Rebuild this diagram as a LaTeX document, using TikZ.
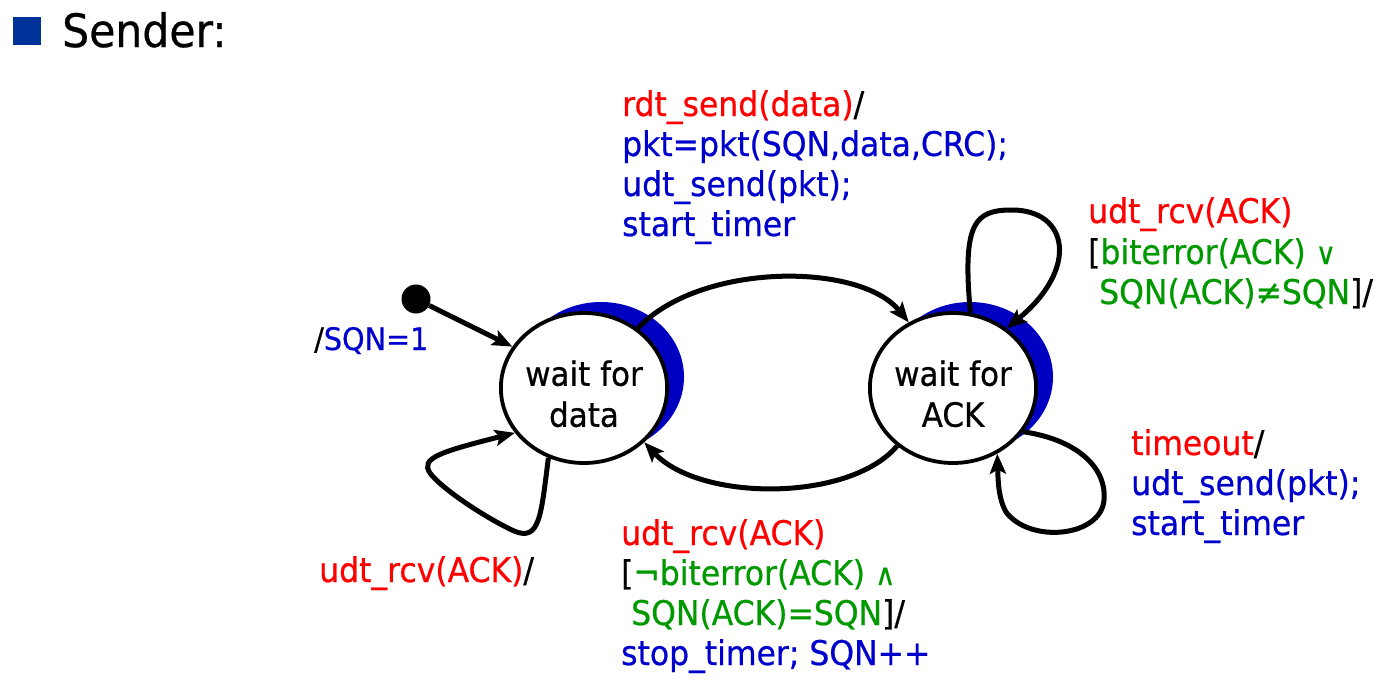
\documentclass[tikz,border=0pt]{standalone}
\usepackage{fontspec}
\setmainfont{DejaVu Sans}[FakeStretch=0.925,FakeBold=0.6]
\usetikzlibrary{shapes.geometric,arrows.meta}
\definecolor{ered}{HTML}{FF0000}
\definecolor{eblue}{HTML}{0000CC}
\definecolor{egreen}{HTML}{009900}
\definecolor{eshade}{HTML}{0000C0}
\definecolor{ebullet}{HTML}{003399}
\newcommand{\smallop}[1]{{\fontsize{30}{30}\selectfont #1}}
\begin{document}
\begin{tikzpicture}[x=1pt,y=-1pt,
  lbl/.style={anchor=base west, inner sep=0pt, font=\fontsize{34}{40}\selectfont},
  statebox/.style={ellipse, draw=black, line width=3.8pt, fill=white,
    minimum width=166pt, minimum height=150pt, inner sep=0pt,
    align=center, font=\fontsize{33.5}{41}\selectfont},
  shadebox/.style={ellipse, fill=eshade, minimum width=166pt,
    minimum height=150pt, inner sep=0pt},
  arr/.style={line width=5pt, -{Stealth[length=20pt,width=16pt,inset=4pt]}}]
\useasboundingbox (0,0) rectangle (1384,686);

% header
\node[fill=ebullet, minimum size=28pt, inner sep=0pt] (sq) at (27,30.5) {};
\node[lbl, font=\fontsize{46}{50}\selectfont] (sender) at (62,47) {Sender:};

% states
\node[shadebox] (datash) at (601,377) {};
\node[shadebox] (acksh) at (970,377) {};
\node[statebox] (data) at (584,388) {\rule{0pt}{37pt}wait for\\data};
\node[statebox] (ack) at (953,388) {\rule{0pt}{37pt}wait for\\ACK};

% initial
\node[circle, fill=black, minimum size=29pt, inner sep=0pt] (init) at (416,299) {};
\draw[arr] (init) -- (data.150);
\node[lbl, font=\fontsize{31}{35}\selectfont] (initlbl) at (314,350) {/\textcolor{eblue}{SQN=1}};

% transitions
\draw[arr] (data.48) .. controls (700,262) and (860,262) .. (ack.124);
\draw[arr] (ack.226) .. controls (850,502) and (700,502) .. (data.-42);
\draw[arr] (data.243) .. controls (541,515) and (540,542) .. (514,531)
  .. controls (482,516) and (440,487) .. (430,473)
  .. controls (420,458) and (440,452) .. (data.213);
\draw[arr] (ack.77) .. controls (962,222) and (975,210) .. (1012,210)
  .. controls (1068,210) and (1080,268) .. (ack.48);
\draw[arr] (ack.-32) .. controls (1080,440) and (1107,470) .. (1104,500)
  .. controls (1101,537) and (1030,544) .. (1006,512)
  .. controls (998,498) and (998,478) .. (ack.304);

% labels
\node[lbl] (t1) at (622,116) {\textcolor{ered}{rdt\_send(data)}/};
\node[lbl] (t2) at (622,156) {\textcolor{eblue}{pkt=pkt(SQN,data,CRC);}};
\node[lbl] (t3) at (622,196) {\textcolor{eblue}{udt\_send(pkt);}};
\node[lbl] (t4) at (622,236) {\textcolor{eblue}{start\_timer}};

\node[lbl] (r1) at (1088,223) {\textcolor{ered}{udt\_rcv(ACK)}};
\node[lbl] (r2) at (1088,264) {[\textcolor{egreen}{biterror(ACK) \smallop{∨}}};
\node[lbl] (r3) at (1099,304) {\textcolor{egreen}{SQN(ACK)≠SQN}]/};

\node[lbl] (b1) at (1131,455) {\textcolor{ered}{timeout}/};
\node[lbl] (b2) at (1131,495) {\textcolor{eblue}{udt\_send(pkt);}};
\node[lbl] (b3) at (1131,535) {\textcolor{eblue}{start\_timer}};

\node[lbl] (c1) at (621,545) {\textcolor{ered}{udt\_rcv(ACK)}};
\node[lbl] (c2) at (621,585) {[\textcolor{egreen}{¬biterror(ACK) \smallop{∧}}};
\node[lbl] (c3) at (631,625) {\textcolor{egreen}{SQN(ACK)=SQN}]/};
\node[lbl] (c4) at (621,665) {\textcolor{eblue}{stop\_timer; SQN++}};

\node[lbl] (l1) at (319,582) {\textcolor{ered}{udt\_rcv(ACK)}/};
\end{tikzpicture}
\end{document}
